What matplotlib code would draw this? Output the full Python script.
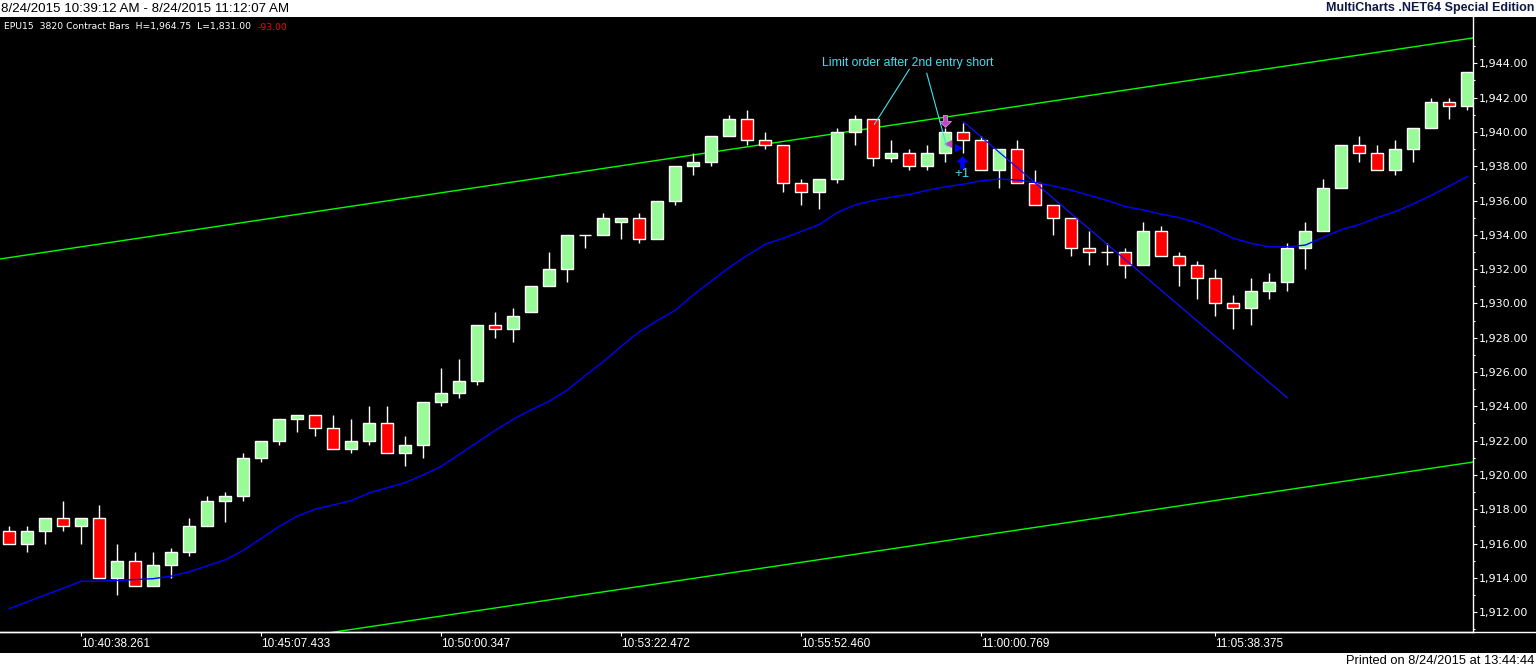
import numpy as np
import matplotlib
matplotlib.use("Agg")
import matplotlib.pyplot as plt
from matplotlib.patches import Rectangle
from matplotlib.lines import Line2D
from matplotlib.path import Path

# OHLC of the 82 contract bars
opens = [1916.75, 1916.0, 1916.75, 1917.5, 1917.0, 1917.5, 1914.0, 1915.0, 1913.5, 1914.75,
         1915.5, 1917.0, 1918.5, 1918.75, 1921.0, 1922.0, 1923.25, 1923.5, 1922.75, 1921.5,
         1922.0, 1923.0, 1921.25, 1921.75, 1924.25, 1924.75, 1925.5, 1928.75, 1928.5, 1929.5,
         1931.0, 1932.0, 1934.0, 1934.0, 1934.75, 1935.0, 1933.75, 1936.0, 1938.0, 1938.25,
         1939.75, 1940.75, 1939.5, 1939.25, 1937.0, 1936.5, 1937.25, 1940.0, 1940.75, 1938.5,
         1938.75, 1938.0, 1938.75, 1940.0, 1939.5, 1937.75, 1939.0, 1937.0, 1935.75, 1935.0,
         1933.25, 1933.0, 1933.0, 1932.25, 1934.25, 1932.75, 1932.25, 1931.5, 1930.0, 1929.75,
         1930.75, 1931.25, 1933.25, 1934.25, 1936.75, 1939.25, 1938.75, 1937.75, 1939.0, 1940.25,
         1941.75, 1941.5]
highs = [1917.0, 1917.0, 1917.5, 1918.5, 1917.5, 1918.25, 1916.0, 1915.5, 1915.5, 1915.75,
         1917.5, 1918.75, 1919.0, 1921.25, 1922.0, 1923.25, 1923.5, 1923.5, 1923.5, 1923.25,
         1924.0, 1924.0, 1922.25, 1924.25, 1926.25, 1926.75, 1928.75, 1929.5, 1929.75, 1931.0,
         1933.0, 1934.0, 1934.0, 1935.25, 1935.0, 1935.25, 1936.0, 1938.0, 1938.75, 1939.75,
         1941.0, 1941.25, 1940.0, 1939.25, 1937.25, 1937.25, 1940.25, 1941.0, 1940.75, 1939.5,
         1939.0, 1939.25, 1940.25, 1940.5, 1939.75, 1939.0, 1939.5, 1937.75, 1935.75, 1935.0,
         1934.25, 1933.5, 1933.25, 1934.75, 1934.5, 1933.0, 1932.5, 1932.0, 1930.5, 1931.5,
         1931.75, 1933.5, 1934.75, 1937.25, 1939.25, 1939.75, 1939.25, 1939.5, 1940.25, 1942.0,
         1942.0, 1943.5]
lows = [1916.0, 1915.5, 1916.0, 1916.75, 1916.0, 1914.0, 1913.0, 1913.5, 1913.5, 1914.0,
        1915.25, 1917.0, 1917.25, 1918.5, 1920.75, 1921.75, 1922.5, 1922.25, 1921.5, 1921.25,
        1921.75, 1921.25, 1920.5, 1921.0, 1924.0, 1924.5, 1925.25, 1928.0, 1927.75, 1929.5,
        1931.0, 1931.25, 1933.25, 1934.0, 1933.75, 1933.5, 1933.75, 1935.75, 1937.5, 1938.0,
        1939.75, 1939.25, 1939.0, 1936.5, 1935.75, 1935.5, 1937.0, 1939.25, 1938.0, 1938.25,
        1937.75, 1937.75, 1938.25, 1938.75, 1937.75, 1936.75, 1937.0, 1935.75, 1934.0, 1932.75,
        1932.25, 1932.25, 1931.5, 1932.25, 1932.75, 1931.0, 1930.25, 1929.25, 1928.5, 1928.75,
        1930.25, 1930.75, 1932.0, 1934.25, 1936.75, 1938.25, 1937.75, 1937.5, 1938.25, 1940.25,
        1940.75, 1941.25]
closes = [1916.0, 1916.75, 1917.5, 1917.0, 1917.5, 1914.0, 1915.0, 1913.5, 1914.75, 1915.5,
          1917.0, 1918.5, 1918.75, 1921.0, 1922.0, 1923.25, 1923.5, 1922.75, 1921.5, 1922.0,
          1923.0, 1921.25, 1921.75, 1924.25, 1924.75, 1925.5, 1928.75, 1928.5, 1929.25, 1931.0,
          1932.0, 1934.0, 1934.0, 1935.0, 1935.0, 1933.75, 1936.0, 1938.0, 1938.25, 1939.75,
          1940.75, 1939.5, 1939.25, 1937.0, 1936.5, 1937.25, 1940.0, 1940.75, 1938.5, 1938.75,
          1938.0, 1938.75, 1940.0, 1939.5, 1937.75, 1939.0, 1937.0, 1935.75, 1935.0, 1933.25,
          1933.0, 1933.0, 1932.25, 1934.25, 1932.75, 1932.25, 1931.5, 1930.0, 1929.75, 1930.75,
          1931.25, 1933.25, 1934.25, 1936.75, 1939.25, 1938.75, 1937.75, 1939.0, 1940.25, 1941.75,
          1941.5, 1943.5]

# blue moving average, one value per bar
avg_line = [1912.2, 1912.6, 1913.0, 1913.4, 1913.8, 1913.8, 1913.85, 1913.9, 1913.95, 1914.1,
            1914.35, 1914.7, 1915.05, 1915.6, 1916.3, 1917.0, 1917.6, 1918.0, 1918.25, 1918.5,
            1918.95, 1919.25, 1919.55, 1920.0, 1920.5, 1921.2, 1921.9, 1922.6, 1923.25, 1923.8,
            1924.3, 1924.95, 1925.8, 1926.6, 1927.5, 1928.35, 1929.0, 1929.6, 1930.5, 1931.3,
            1932.1, 1932.8, 1933.45, 1933.8, 1934.2, 1934.6, 1935.3, 1935.75, 1936.0, 1936.2,
            1936.35, 1936.6, 1936.8, 1936.95, 1937.15, 1937.25, 1937.2, 1937.05, 1936.85, 1936.6,
            1936.3, 1936.0, 1935.65, 1935.45, 1935.2, 1935.0, 1934.7, 1934.3, 1933.8, 1933.5,
            1933.3, 1933.3, 1933.4, 1933.85, 1934.3, 1934.6, 1935.0, 1935.35, 1935.8, 1936.3,
            1936.85, 1937.4]

# trend lines (bar index, price)
channel_x = [-0.52, 81.32]
channel_upper = [1932.59, 1945.48]
channel_lower = [1907.93, 1920.75]
down_x = [53.0, 71.0]
down_y = [1940.6, 1924.5]

time_idx = [4, 14, 24, 34, 44, 54, 67]
time_labels = ["10:40:38.261", "10:45:07.433", "10:50:00.347", "10:53:22.472",
               "10:55:52.460", "11:00:00.769", "11:05:38.375"]

W, H = 1536, 668
fig = plt.figure(figsize=(W / 100, H / 100), dpi=100, facecolor="black")
ax = fig.add_axes([0, 36 / H, 1472.5 / W, 615 / H])
ax.set_facecolor("black")

x = np.arange(len(opens))
o = np.array(opens); c = np.array(closes)
cols = np.where(c > o, "#98fb98", np.where(c < o, "#ff0000", "white"))

ax.vlines(x, lows, highs, color="white", lw=1.0, zorder=2)
ax.bar(x, c - o, bottom=o, width=0.66, color=cols, edgecolor="white", linewidth=1.0, zorder=3)

ax.plot(x, avg_line, color="#0000ff", lw=1.0, zorder=4)
ax.plot(channel_x, channel_upper, color="#00ff00", lw=1.0, zorder=1)
ax.plot(channel_x, channel_lower, color="#00ff00", lw=1.0, zorder=1)
ax.plot(down_x, down_y, color="#1010ff", lw=0.9, zorder=4)

# trade markers: block arrows
arrow_down = Path([(-0.18, 0.5), (0.18, 0.5), (0.18, 0.0), (0.5, 0.0), (0.0, -0.5),
                   (-0.5, 0.0), (-0.18, 0.0), (-0.18, 0.5)], closed=True)
arrow_up = Path([(-0.18, -0.5), (0.18, -0.5), (0.18, 0.0), (0.5, 0.0), (0.0, 0.5),
                 (-0.5, 0.0), (-0.18, 0.0), (-0.18, -0.5)], closed=True)
ax.plot([51.98], [1940.62], marker=arrow_down, ms=8.5, color="#c048c0",
        markeredgecolor="#e090e0", markeredgewidth=0.6, zorder=6)
ax.plot([52.15], [1939.29], marker="<", ms=6, color="#c048c0", markeredgewidth=0, zorder=6)
ax.plot([52.78], [1939.06], marker=">", ms=6, color="#0000ff", markeredgewidth=0, zorder=6)
ax.plot([52.94], [1938.26], marker=arrow_up, ms=9, color="#0000ff", markeredgewidth=0, zorder=6)
ax.text(52.94, 1937.54, "+1", color="#40d8f0", fontsize=9.5, ha="center", va="center",
        family="Liberation Sans", zorder=6)

# annotation
ann_c = "#40e0f0"
ax.text(49.9, 1944.04, "Limit order after 2nd entry short", color=ann_c, fontsize=8.8,
        ha="center", va="center", family="Liberation Sans", zorder=6)
ax.plot([50.0, 48.06], [1943.65, 1940.44], color=ann_c, lw=0.8, zorder=6)
ax.plot([50.97, 52.08], [1943.42, 1939.14], color=ann_c, lw=0.8, zorder=6)

ax.set_xlim(-0.517, 81.29)
ax.set_ylim(1910.84, 1946.70)

for s in ["top", "left"]:
    ax.spines[s].set_visible(False)
for s in ["right", "bottom"]:
    ax.spines[s].set_color("white")
    ax.spines[s].set_linewidth(1.0)

ax.yaxis.tick_right()
yt = np.arange(1912, 1946, 2)
ax.set_yticks(yt, [f"{v:,.2f}" for v in yt])
ax.set_yticks(np.arange(1911, 1946, 2), minor=True)
ax.tick_params(axis="y", which="major", colors="white", length=3, width=0.8, pad=1.5, labelsize=8)
ax.tick_params(axis="y", which="minor", colors="white", length=1.5, width=0.8)
ax.set_xticks(time_idx, time_labels)
ax.tick_params(axis="x", colors="white", length=3, width=0.8, pad=1.0, labelsize=8.5)
for lab in ax.get_xticklabels():
    lab.set_ha("left")
    lab.set_family("Liberation Sans")

# bottom rule under the price scale too
fig.add_artist(Line2D([0, 1], [36 / H, 36 / H], color="white", lw=1.0))

# header and footer strips
fig.add_artist(Rectangle((0, 1 - 17 / H), 1, 17 / H, transform=fig.transFigure,
                         facecolor="white", edgecolor="none"))
fig.add_artist(Rectangle((0, 0), 1, 15 / H, transform=fig.transFigure,
                         facecolor="white", edgecolor="none"))
fig.text(1 / W, 1 - 8.5 / H, "8/24/2015 10:39:12 AM - 8/24/2015 11:12:07 AM", color="black",
         fontsize=9.6, va="center", ha="left", family="Liberation Sans")
fig.text(1534 / W, 1 - 8.5 / H, "MultiCharts .NET64 Special Edition", color="#101848",
         fontsize=9.0, weight="bold", va="center", ha="right", family="Liberation Sans")
info = fig.text(4 / W, 1 - 27 / H, "EPU15  3820 Contract Bars  H=1,964.75  L=1,831.00",
                color="white", fontsize=6.7, va="center", ha="left")
bb = info.get_window_extent(renderer=fig.canvas.get_renderer())
fig.text((bb.x1 + 7) / W, 1 - 27 / H, "-93.00", color="#ff0000", fontsize=6.7,
         va="center", ha="left")
fig.text(1534 / W, 1 - 660.5 / H, "Printed on 8/24/2015 at 13:44:44", color="black",
         fontsize=9.3, va="center", ha="right", family="Liberation Sans")

fig.savefig("out.png", dpi=100, facecolor="black")
